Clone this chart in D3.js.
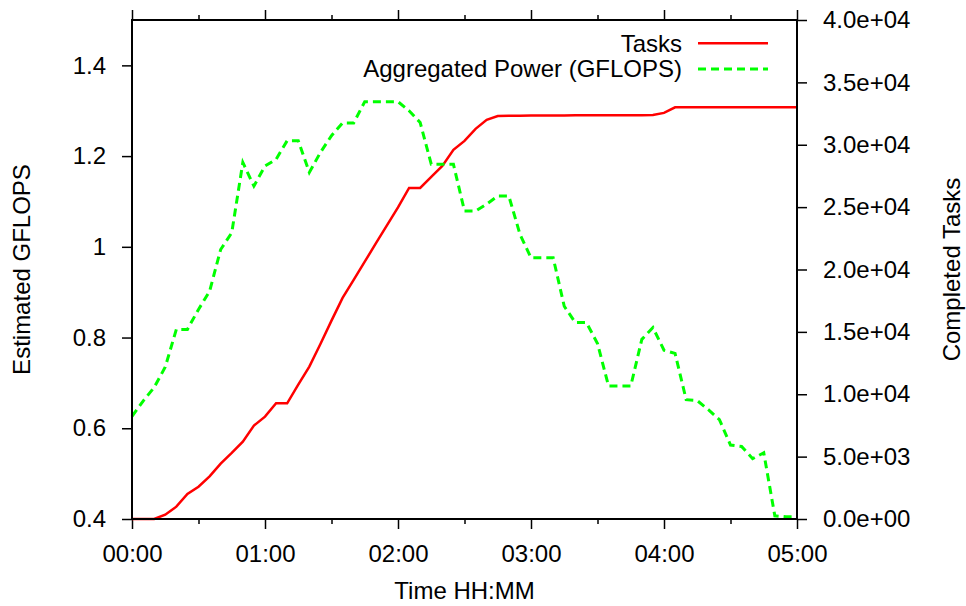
<!DOCTYPE html>
<html>
<head>
<meta charset="utf-8">
<script src="https://cdn.jsdelivr.net/npm/d3@7"></script>
<style>
    body { margin: 0; background: #fff; }
    .chart-container text { font-family: 'Liberation Sans', Arial, sans-serif; }
</style>
</head>
<body>
<div class="chart-container"></div>
<script>
// Time in minutes since start (one sample every 5 minutes)
const minutes = [0, 5, 10, 15, 20, 25, 30, 35, 40, 45, 50, 55,
    60, 65, 70, 75, 80, 85, 90, 95, 100, 105, 110, 115,
    120, 125, 130, 135, 140, 145, 150, 155, 160, 165, 170, 175,
    180, 185, 190, 195, 200, 205, 210, 215, 220, 225, 230, 235,
    240, 245, 250, 255, 260, 265, 270, 275, 280, 285, 290, 295, 300];

// Completed tasks (right axis)
const tasks = [0, 0, 0, 345, 987, 2014, 2591, 3418, 4437, 5295, 6202, 7485,
    8207, 9275, 9275, 10775, 12219, 14032, 15902, 17723, 19175, 20627, 22087, 23531,
    24984, 26540, 26540, 27423, 28305, 29589, 30311, 31274, 31996, 32301, 32317, 32330,
    32340, 32345, 32350, 32350, 32355, 32355, 32360, 32360, 32360, 32365, 32370, 32380,
    32557, 32999, 33000, 33000, 33000, 33000, 33000, 33000, 33000, 33000, 33000, 33000, 33000];

// Aggregated power in GFLOPS (left axis)
const power = [0.626, 0.66, 0.69, 0.735, 0.818, 0.818, 0.862, 0.902, 0.994, 1.031, 1.186, 1.134,
    1.178, 1.193, 1.234, 1.234, 1.164, 1.208, 1.245, 1.273, 1.273, 1.320, 1.320, 1.320,
    1.320, 1.300, 1.274, 1.182, 1.182, 1.182, 1.079, 1.079, 1.094, 1.112, 1.112, 1.028,
    0.976, 0.976, 0.976, 0.869, 0.833, 0.833, 0.787, 0.693, 0.693, 0.693, 0.796, 0.822,
    0.772, 0.765, 0.663, 0.661, 0.641, 0.619, 0.563, 0.560, 0.533, 0.546, 0.407, 0.405, 0.405];

// Tick values and labels
const hourTicks = [0, 60, 120, 180, 240, 300];
const hourLabels = ['00:00', '01:00', '02:00', '03:00', '04:00', '05:00'];
const halfHourTicks = [30, 90, 150, 210, 270];
const leftTicks = [0.4, 0.6, 0.8, 1.0, 1.2, 1.4];
const leftLabels = ['0.4', '0.6', '0.8', '1', '1.2', '1.4'];
const rightTicks = [0, 5000, 10000, 15000, 20000, 25000, 30000, 35000, 40000];
const rightLabels = ['0.0e+00', '5.0e+03', '1.0e+04', '1.5e+04', '2.0e+04',
    '2.5e+04', '3.0e+04', '3.5e+04', '4.0e+04'];

const seriesNames = ['Tasks', 'Aggregated Power (GFLOPS)'];

// Dimensions and margins
const margin = { top: 20, right: 169, bottom: 87, left: 132 },
    width = 966 - margin.left - margin.right,
    height = 606 - margin.top - margin.bottom;

const root = d3.select('.chart-container')
    .append('svg')
    .attr('width', width + margin.left + margin.right)
    .attr('height', height + margin.top + margin.bottom);

const svg = root.append('g')
    .attr('transform', `translate(${margin.left},${margin.top})`);

// Scales
const x = d3.scaleLinear().domain([0, 300]).range([0, width]);
const yLeft = d3.scaleLinear().domain([0.4, 1.5]).range([height, 0]);
const yRight = d3.scaleLinear().domain([0, 40000]).range([height, 0]);

function styleAxis(g) {
    g.select('.domain').remove();
    g.selectAll('.tick line').attr('stroke', '#000').attr('stroke-width', 1.5);
    g.selectAll('.tick text').attr('fill', '#000');
    g.attr('font-size', 24);
}

// X axis bottom (major + minor)
svg.append('g')
    .attr('transform', `translate(0,${height})`)
    .call(d3.axisBottom(x).tickValues(hourTicks).tickFormat((d, i) => hourLabels[i])
        .tickSize(10).tickPadding(16).tickSizeOuter(0))
    .call(styleAxis);
svg.append('g')
    .attr('transform', `translate(0,${height})`)
    .call(d3.axisBottom(x).tickValues(halfHourTicks).tickFormat('').tickSize(5).tickSizeOuter(0))
    .call(styleAxis);

// X axis top (mirror ticks)
svg.append('g')
    .call(d3.axisTop(x).tickValues(hourTicks).tickFormat('').tickSize(10).tickSizeOuter(0))
    .call(styleAxis);
svg.append('g')
    .call(d3.axisTop(x).tickValues(halfHourTicks).tickFormat('').tickSize(5).tickSizeOuter(0))
    .call(styleAxis);

// Left Y axis
svg.append('g')
    .call(d3.axisLeft(yLeft).tickValues(leftTicks).tickFormat((d, i) => leftLabels[i])
        .tickSize(10).tickPadding(16).tickSizeOuter(0))
    .call(styleAxis);

// Right Y axis
svg.append('g')
    .attr('transform', `translate(${width},0)`)
    .call(d3.axisRight(yRight).tickValues(rightTicks).tickFormat((d, i) => rightLabels[i])
        .tickSize(10).tickPadding(16).tickSizeOuter(0))
    .call(styleAxis);

// Tasks line
svg.append('path')
    .datum(tasks)
    .attr('fill', 'none')
    .attr('stroke', '#ff0000')
    .attr('stroke-width', 2.5)
    .attr('d', d3.line()
        .x((d, i) => x(minutes[i]))
        .y(d => yRight(d)));

// Power line
svg.append('path')
    .datum(power)
    .attr('fill', 'none')
    .attr('stroke', '#00ff00')
    .attr('stroke-width', 3)
    .attr('stroke-dasharray', '8,5')
    .attr('d', d3.line()
        .x((d, i) => x(minutes[i]))
        .y(d => yLeft(d)));

// Frame
svg.append('rect')
    .attr('width', width)
    .attr('height', height)
    .attr('fill', 'none')
    .attr('stroke', '#000')
    .attr('stroke-width', 2);

// Legend
const legend = svg.append('g');
const legendStyles = [
    { color: '#ff0000', dash: null, width: 2.5 },
    { color: '#00ff00', dash: '8,5', width: 3 }
];
seriesNames.forEach((name, i) => {
    const yy = 23.3 + i * 25.7;
    legend.append('text')
        .attr('x', 550)
        .attr('y', yy)
        .attr('dy', '0.35em')
        .attr('text-anchor', 'end')
        .attr('font-size', 24)
        .text(name);
    legend.append('line')
        .attr('x1', 566).attr('x2', 636)
        .attr('y1', yy).attr('y2', yy)
        .attr('stroke', legendStyles[i].color)
        .attr('stroke-width', legendStyles[i].width)
        .attr('stroke-dasharray', legendStyles[i].dash);
});

// Axis titles
root.append('text')
    .attr('transform', `translate(30,${margin.top + height / 2}) rotate(-90)`)
    .attr('text-anchor', 'middle')
    .attr('font-size', 24)
    .text('Estimated GFLOPS');

root.append('text')
    .attr('transform', `translate(960,${margin.top + height / 2}) rotate(-90)`)
    .attr('text-anchor', 'middle')
    .attr('font-size', 24)
    .text('Completed Tasks');

root.append('text')
    .attr('x', margin.left + width / 2)
    .attr('y', 599)
    .attr('text-anchor', 'middle')
    .attr('font-size', 24)
    .text('Time HH:MM');
</script>
</body>
</html>
